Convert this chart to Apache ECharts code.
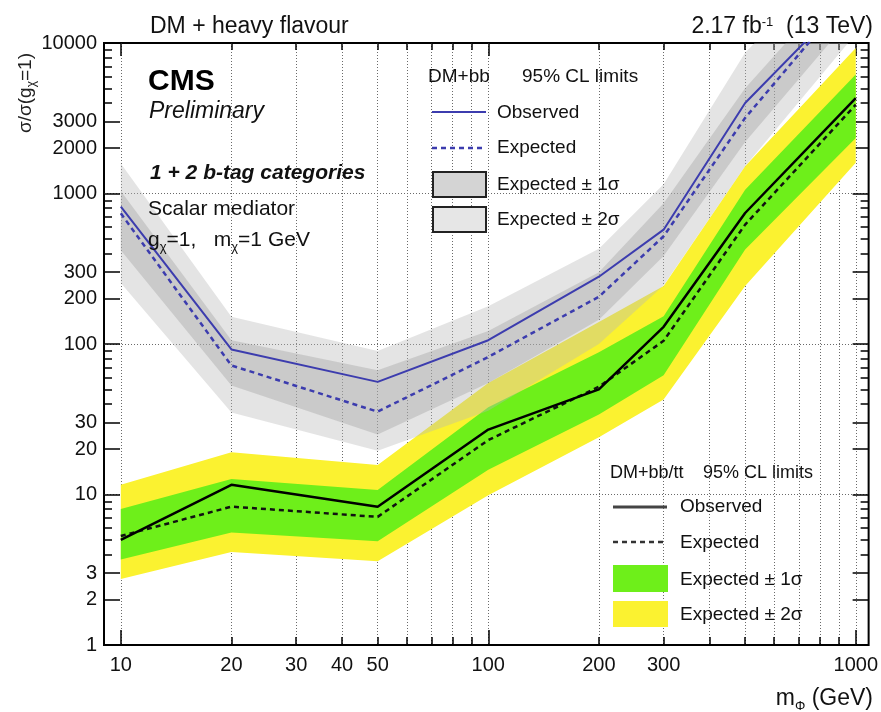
<!DOCTYPE html>
<html>
<head>
<meta charset="utf-8">
<title>DM + heavy flavour limits</title>
<script src="https://cdn.jsdelivr.net/npm/echarts@6/dist/echarts.min.js"></script>
<style>
  html, body { margin: 0; padding: 0; background: #fff; }
  #chart { width: 881px; height: 712px; }
</style>
</head>
<body>
<div id="chart"></div>
<script>
// Mediator masses (GeV)
const massPoints = [10, 20, 50, 100, 200, 300, 500, 1000];

// DM+bb 95% CL limits on sigma/sigma(g_chi=1)
const bbObserved = [817, 92, 56, 106, 280, 575, 3990, 22500];
const bbExpected = [738, 72, 35.5, 82, 206, 520, 3180, 23500];
const bbOneSigmaUp = [1040, 106, 67, 122, 300, 860, 5000, 33000];
const bbOneSigmaDown = [420, 53, 25, 55, 145, 385, 2200, 16000];
const bbTwoSigmaUp = [1585, 152, 90, 178, 430, 1150, 8600, 50000];
const bbTwoSigmaDown = [254, 35, 19.5, 36, 100, 245, 1520, 11500];

// DM+bb/tt 95% CL limits
const bbttObserved = [5.0, 11.6, 8.3, 27, 50, 130, 742, 4310];
const bbttExpected = [5.3, 8.3, 7.1, 23, 52, 105, 621, 3890];
const bbttOneSigmaUp = [8.0, 12.7, 10.7, 38, 88, 153, 1060, 6170];
const bbttOneSigmaDown = [3.7, 5.6, 4.9, 14.6, 34, 62, 424, 2340];
const bbttTwoSigmaUp = [11.6, 19.1, 15.7, 55, 140, 243, 1520, 9270];
const bbttTwoSigmaDown = [2.75, 4.15, 3.6, 9.9, 24, 42.7, 243, 1600];

// Axis ticks and labels
const xLabelValues = [10, 20, 30, 40, 50, 100, 200, 300, 1000];
const xMinorTicks = [10, 20, 30, 40, 50, 60, 70, 80, 90, 100, 200, 300, 400, 500, 600, 700, 800, 900, 1000];
const xMajorTicks = [10, 100, 1000];
const yLabelValues = [1, 2, 3, 10, 20, 30, 100, 200, 300, 1000, 2000, 3000, 10000];
const yMinorTicks = [];
[1, 10, 100, 1000].forEach(function (d) {
  for (let k = 1; k < 10; k++) yMinorTicks.push(k * d);
});
yMinorTicks.push(10000);
const yGridValues = [10, 100, 1000];

const FONT = '"Liberation Sans", Arial, Helvetica, sans-serif';
const BLUE = '#3c3cae';
const GREEN = '#6eef1a';
const YELLOW = '#fbf230';

const chart = echarts.init(document.getElementById('chart'), null, { renderer: 'canvas' });

function pairs(xs, ys) {
  return xs.map(function (x, i) { return [x, ys[i]]; });
}

// Filled band between a lower and an upper curve, placed through the axes
function band(name, lo, hi, fill, z) {
  return {
    type: 'custom',
    name: name,
    z: z,
    silent: true,
    xAxisIndex: 0,
    yAxisIndex: 0,
    data: [[massPoints[0], hi[0]]],
    renderItem: function (params, api) {
      const pts = [];
      for (let i = 0; i < massPoints.length; i++) pts.push(api.coord([massPoints[i], hi[i]]));
      for (let i = massPoints.length - 1; i >= 0; i--) pts.push(api.coord([massPoints[i], lo[i]]));
      const cs = params.coordSys;
      return {
        type: 'polygon',
        shape: { points: pts },
        style: { fill: fill, stroke: null },
        clipPath: { type: 'rect', shape: { x: cs.x, y: cs.y, width: cs.width, height: cs.height } }
      };
    }
  };
}

function line(name, ys, color, width, dashed, z) {
  return {
    type: 'line',
    name: name,
    z: z,
    xAxisIndex: 0,
    yAxisIndex: 0,
    data: pairs(massPoints, ys),
    showSymbol: false,
    symbol: 'none',
    silent: true,
    clip: true,
    lineStyle: { color: color, width: width, type: dashed ? [5, 4] : 'solid' }
  };
}

const numFmt = function (v) { return String(Math.round(v)); };

function xAxisDef(pos, ticks, len, withLabels, withSplit) {
  return {
    type: 'log', logBase: 10, min: 9, max: 1084, position: pos, gridIndex: 0,
    axisLine: { show: false },
    axisTick: { show: true, inside: true, length: len, customValues: ticks,
      lineStyle: { color: '#000', width: 1.5 } },
    axisLabel: withLabels ? {
      show: true, customValues: xLabelValues, formatter: numFmt,
      fontFamily: FONT, fontSize: 20, color: '#111', margin: 10
    } : { show: false },
    splitLine: withSplit ? { show: true, lineStyle: { color: '#6a6a6a', width: 1, type: [1, 2] } } : { show: false }
  };
}

function yAxisDef(pos, ticks, len, withLabels, withSplit) {
  return {
    type: 'log', logBase: 10, min: 1, max: 10000, position: pos, gridIndex: 0,
    axisLine: { show: false },
    axisTick: { show: len > 0, inside: true, length: len, customValues: ticks,
      lineStyle: { color: '#000', width: 1.5 } },
    axisLabel: withLabels ? {
      show: true, customValues: yLabelValues, formatter: numFmt,
      fontFamily: FONT, fontSize: 20, color: '#111', margin: 7
    } : { show: false },
    splitLine: withSplit ? { show: true, lineStyle: { color: '#6a6a6a', width: 1, type: [1, 2] } } : { show: false }
  };
}

function txt(x, y, text, size, opts) {
  opts = opts || {};
  return {
    type: 'text',
    x: x, y: y,
    rotation: opts.rotation || 0,
    z: 100,
    silent: true,
    style: {
      text: text,
      fill: opts.color || '#111',
      font: (opts.style || '') + ' ' + (opts.weight || 'normal') + ' ' + size + 'px ' + FONT,
      align: opts.align || 'left',
      verticalAlign: 'middle',
      textAlign: opts.align || 'left',
      textVerticalAlign: 'middle',
      rich: opts.rich
    }
  };
}

const supRich = {
  sup: { fontSize: 12, fontFamily: FONT, verticalAlign: 'top', fill: '#111' },
  sub: { fontSize: 12, fontFamily: FONT, verticalAlign: 'bottom', fill: '#111', padding: [0, 0, 0, 0] }
};

const graphics = [
  // Headline texts
  txt(150, 27, 'DM + heavy flavour', 23),
  txt(873, 27, '2.17 fb{sup|-1}  (13 TeV)', 23, { align: 'right', rich: {
    sup: { fontSize: 13, fontFamily: FONT, fill: '#111', padding: [0, 0, 10, 0] } } }),
  txt(148, 82, 'CMS', 30, { weight: 'bold', color: '#000' }),
  txt(149, 112, 'Preliminary', 23, { style: 'italic' }),
  txt(150, 173, '1 + 2 b-tag categories', 21, { style: 'italic', weight: 'bold' }),
  txt(148, 209, 'Scalar mediator', 21),
  txt(148, 240, 'g{sub|χ}=1,   m{sub|χ}=1 GeV', 21, { rich: {
    sub: { fontSize: 13, fontFamily: FONT, fill: '#111', padding: [14, 0, 0, 0] } } }),

  // Axis titles
  txt(873, 699, 'm{sub|Φ} (GeV)', 23, { align: 'right', rich: {
    sub: { fontSize: 13, fontFamily: FONT, fill: '#111', padding: [14, 0, 0, 0] } } }),
  txt(26, 93, 'σ/σ(g{sub|χ}=1)', 19, { rotation: Math.PI / 2, align: 'center', color: '#222', rich: {
    sub: { fontSize: 12, fontFamily: FONT, fill: '#222', padding: [12, 0, 0, 0] } } }),

  // DM+bb legend
  txt(428, 77, 'DM+bb', 19),
  txt(522, 77, '95% CL limits', 19),
  { type: 'line', z: 100, silent: true, shape: { x1: 432, y1: 112, x2: 486, y2: 112 },
    style: { stroke: BLUE, lineWidth: 2 } },
  txt(497, 113, 'Observed', 19),
  { type: 'line', z: 100, silent: true, shape: { x1: 432, y1: 148, x2: 486, y2: 148 },
    style: { stroke: BLUE, lineWidth: 2.5, lineDash: [5, 4] } },
  txt(497, 148, 'Expected', 19),
  { type: 'rect', z: 100, silent: true, shape: { x: 433, y: 172, width: 53, height: 25 },
    style: { fill: '#d4d4d4', stroke: '#222', lineWidth: 2 } },
  txt(497, 185, 'Expected ± 1σ', 19),
  { type: 'rect', z: 100, silent: true, shape: { x: 433, y: 207, width: 53, height: 25 },
    style: { fill: '#e6e6e6', stroke: '#222', lineWidth: 2 } },
  txt(497, 220, 'Expected ± 2σ', 19),

  // DM+bb/tt legend
  txt(610, 473, 'DM+bb/tt', 18),
  txt(703, 473, '95% CL limits', 18),
  { type: 'line', z: 100, silent: true, shape: { x1: 613, y1: 507, x2: 667, y2: 507 },
    style: { stroke: '#444', lineWidth: 3 } },
  txt(680, 507, 'Observed', 19),
  { type: 'line', z: 100, silent: true, shape: { x1: 613, y1: 542, x2: 667, y2: 542 },
    style: { stroke: '#333', lineWidth: 2.5, lineDash: [5, 4] } },
  txt(680, 543, 'Expected', 19),
  { type: 'rect', z: 100, silent: true, shape: { x: 613, y: 565, width: 55, height: 27 },
    style: { fill: GREEN } },
  txt(680, 580, 'Expected ± 1σ', 19),
  { type: 'rect', z: 100, silent: true, shape: { x: 613, y: 601, width: 55, height: 26 },
    style: { fill: YELLOW } },
  txt(680, 615, 'Expected ± 2σ', 19)
];

const option = {
  animation: false,
  backgroundColor: '#fff',
  grid: {
    left: 104, top: 43, right: 8, bottom: 67,
    show: true, borderColor: '#000', borderWidth: 2, backgroundColor: 'transparent',
    containLabel: false
  },
  xAxis: [
    xAxisDef('bottom', xMinorTicks, 8, true, true),
    xAxisDef('bottom', xMajorTicks, 15, false, false),
    xAxisDef('top', xMinorTicks, 7, false, false),
    xAxisDef('top', xMajorTicks, 13, false, false)
  ],
  yAxis: [
    yAxisDef('left', yMinorTicks, 8, true, false),
    yAxisDef('left', yLabelValues, 16, false, false),
    yAxisDef('left', yGridValues, 0, false, true),
    yAxisDef('right', yMinorTicks, 8, false, false),
    yAxisDef('right', yLabelValues, 16, false, false)
  ],
  series: [
    band('DM+bb/tt Expected ± 2σ', bbttTwoSigmaDown, bbttTwoSigmaUp, YELLOW, 2),
    band('DM+bb/tt Expected ± 1σ', bbttOneSigmaDown, bbttOneSigmaUp, GREEN, 3),
    band('DM+bb Expected ± 2σ', bbTwoSigmaDown, bbTwoSigmaUp, 'rgba(185,185,185,0.38)', 4),
    band('DM+bb Expected ± 1σ', bbOneSigmaDown, bbOneSigmaUp, 'rgba(160,160,160,0.38)', 5),
    line('DM+bb/tt Expected', bbttExpected, '#111', 2.5, true, 6),
    line('DM+bb/tt Observed', bbttObserved, '#000', 2.5, false, 7),
    line('DM+bb Expected', bbExpected, BLUE, 2.5, true, 8),
    line('DM+bb Observed', bbObserved, BLUE, 2, false, 9)
  ],
  graphic: graphics
};

chart.setOption(option);
</script>
</body>
</html>
